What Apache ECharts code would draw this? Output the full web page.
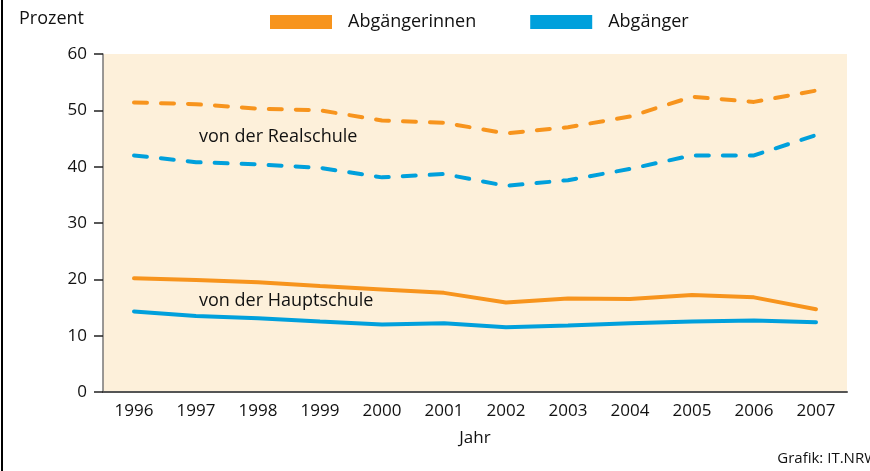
<!DOCTYPE html>
<html>
<head>
<meta charset="utf-8">
<script src="https://cdn.jsdelivr.net/npm/echarts@6/dist/echarts.min.js"></script>
<style>
  html, body { margin: 0; padding: 0; background: #fff; }
  #chart { width: 870px; height: 471px; }
</style>
</head>
<body>
<div id="chart"></div>
<script>
const years = ['1996', '1997', '1998', '1999', '2000', '2001', '2002', '2003', '2004', '2005', '2006', '2007'];

// von der Realschule
const realFemale = [51.4, 51.1, 50.3, 50.0, 48.2, 47.8, 45.9, 47.0, 48.9, 52.4, 51.5, 53.5];
const realMale = [42.0, 40.8, 40.4, 39.8, 38.1, 38.7, 36.6, 37.6, 39.6, 42.0, 42.0, 45.6];

// von der Hauptschule
const hauptFemale = [20.2, 19.9, 19.5, 18.8, 18.2, 17.6, 15.9, 16.6, 16.5, 17.2, 16.8, 14.7];
const hauptMale = [14.3, 13.5, 13.1, 12.5, 12.0, 12.2, 11.5, 11.8, 12.2, 12.5, 12.7, 12.4];

const orange = '#F7941D';
const blue = '#00A0DC';
const ink = '#111';
const font = '"Open Sans", "DejaVu Sans", sans-serif';

var myChart = echarts.init(document.getElementById('chart'));

function lineSeries(name, data, color, dashed) {
    return {
        name: name,
        type: 'line',
        data: data,
        symbol: 'none',
        animation: false,
        lineStyle: {
            color: color,
            width: 4,
            cap: 'round',
            type: dashed ? [13, 14] : 'solid'
        },
        itemStyle: { color: color }
    };
}

var option = {
    textStyle: { fontFamily: font },
    grid: {
        left: 103,
        right: 23,
        top: 54,
        bottom: 79,
        show: true,
        backgroundColor: '#FDF0DA',
        borderWidth: 0
    },
    legend: {
        top: 13,
        left: 270,
        padding: 0,
        itemGap: 54,
        itemWidth: 62,
        itemHeight: 14,
        icon: 'rect',
        textStyle: { fontSize: 18, color: ink, fontFamily: font, padding: [0, 0, 0, 11] },
        data: [
            { name: 'Abgängerinnen', itemStyle: { color: orange } },
            { name: 'Abgänger', itemStyle: { color: blue } }
        ]
    },
    xAxis: {
        type: 'category',
        data: years,
        boundaryGap: true,
        name: 'Jahr',
        nameLocation: 'middle',
        nameGap: 38,
        nameTextStyle: { fontSize: 17, color: ink },
        axisLine: { lineStyle: { color: '#555', width: 2 } },
        axisTick: { show: false },
        axisLabel: { fontSize: 17, color: ink, margin: 11 },
        splitLine: { show: false }
    },
    yAxis: {
        type: 'value',
        min: 0,
        max: 60,
        interval: 10,
        axisLine: { show: true, lineStyle: { color: '#777', width: 1.5 } },
        axisTick: { show: true, length: 9, lineStyle: { color: '#222', width: 1.5 } },
        axisLabel: { fontSize: 17, color: ink, margin: 16 },
        splitLine: { show: false }
    },
    graphic: [
        { type: 'rect', left: 1, top: 0, shape: { width: 2, height: 471 }, style: { fill: '#000' } },
        { type: 'text', left: 19, top: 10, style: { text: 'Prozent', fill: ink, font: '18px ' + font } },
        { type: 'text', left: 199, top: 128, style: { text: 'von der Realschule', fill: ink, font: '18px ' + font } },
        { type: 'text', left: 199, top: 292, style: { text: 'von der Hauptschule', fill: ink, font: '18px ' + font } },
        { type: 'text', right: -8, top: 451, style: { text: 'Grafik: IT.NRW', fill: ink, font: '15px ' + font } }
    ],
    series: [
        lineSeries('Abgängerinnen', realFemale, orange, true),
        lineSeries('Abgänger', realMale, blue, true),
        lineSeries('Abgängerinnen', hauptFemale, orange, false),
        lineSeries('Abgänger', hauptMale, blue, false)
    ]
};

option && myChart.setOption(option);
</script>
</body>
</html>
